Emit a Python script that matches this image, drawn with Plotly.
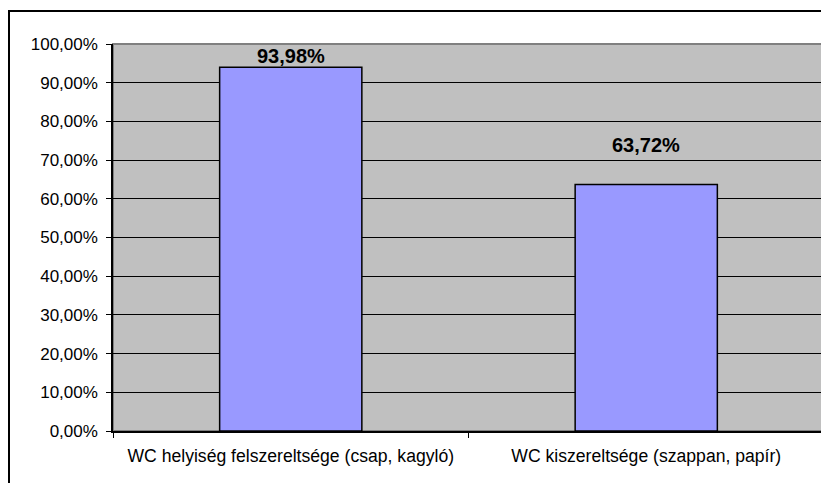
import plotly.graph_objects as go

categories = ["WC helyiség felszereltsége (csap, kagyló)", "WC kiszereltsége (szappan, papír)"]
values = [93.98, 63.72]
value_labels = ["93,98%", "63,72%"]
tick_vals = [0, 10, 20, 30, 40, 50, 60, 70, 80, 90, 100]
tick_text = ["0,00%", "10,00%", "20,00%", "30,00%", "40,00%", "50,00%",
             "60,00%", "70,00%", "80,00%", "90,00%", "100,00%"]
label_shifts = [11, 39]

FONT = "Liberation Sans, Arial, sans-serif"

fig = go.Figure()
fig.add_trace(go.Bar(
    x=categories, y=values,
    marker=dict(color="#9999FF", line=dict(color="black", width=1.5)),
    width=0.4,
    hoverinfo="skip",
))

for c, v, t, s in zip(categories, values, value_labels, label_shifts):
    fig.add_annotation(x=c, y=v, text="<b>" + t + "</b>", showarrow=False,
                       yshift=s, font=dict(family=FONT, size=20, color="black"))

# page body adds an 8px offset; compensate
OFF = 8
W, H = 829, 483
L, T = 113 - OFF, 44 - OFF
R, B = W - (824 - OFF), H - (431 - OFF)
pw, ph = W - L - R, H - T - B

# outer chart border (extends beyond the visible area right and bottom)
fig.add_shape(type="rect", xref="paper", yref="paper",
              x0=(9 - OFF - L) / pw, x1=(845 - L) / pw,
              y0=(H - B - 500) / ph, y1=(H - B - (11 - OFF)) / ph,
              line=dict(color="black", width=2), layer="below")
# plot area border (grey top/right)
fig.add_shape(type="rect", xref="paper", yref="paper", x0=0, x1=1, y0=0, y1=1,
              line=dict(color="#808080", width=2), layer="below")

fig.update_layout(
    width=W, height=H,
    margin=dict(l=L, r=R, t=T, b=B, autoexpand=False),
    paper_bgcolor="white",
    plot_bgcolor="#C0C0C0",
    showlegend=False,
    font=dict(family=FONT, size=17, color="black"),
    xaxis=dict(
        type="category", showline=True, linecolor="black", linewidth=1.5,
        ticks="outside", tickson="boundaries", ticklen=5, tickcolor="black",
        showgrid=False, tickfont=dict(size=17.6), ticklabelstandoff=8,
        automargin=False,
    ),
    yaxis=dict(
        range=[0, 100], tickvals=tick_vals, ticktext=tick_text,
        showline=True, linecolor="black", linewidth=1.5,
        ticks="outside", ticklen=5, tickcolor="black",
        showgrid=True, gridcolor="black", gridwidth=1,
        zeroline=False, tickfont=dict(size=17), ticklabelstandoff=5,
        automargin=False,
    ),
)

fig.write_html("out.html")
